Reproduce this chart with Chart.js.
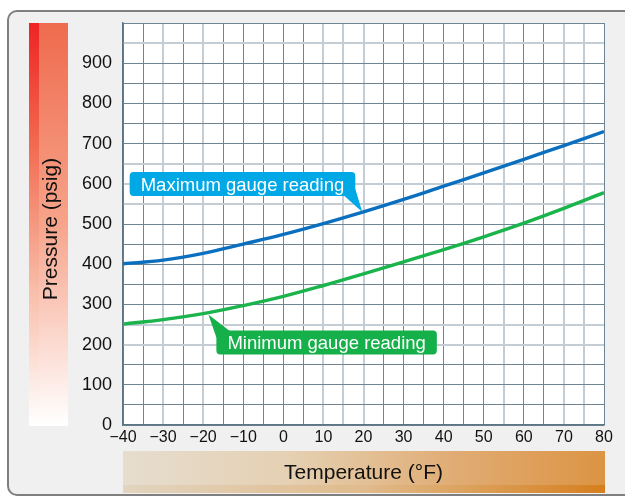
<!DOCTYPE html>
<html>
<head>
<meta charset="utf-8">
<script src="https://cdn.jsdelivr.net/npm/chart.js@4.4.0/dist/chart.umd.min.js"></script>
<style>
  html, body { margin: 0; padding: 0; background: #fff; overflow: hidden; }
  #frame {
    position: absolute; left: 7px; top: 10px; width: 700px; height: 482px;
    border: 2px solid #7f7f7f; border-radius: 10px; background: #f0f0f0;
  }
  #chart { position: absolute; left: 0; top: 0; }
</style>
</head>
<body>
<div id="frame"></div>
<canvas id="chart" width="625" height="497"></canvas>
<script>
// temperature (°F) vs. pressure (psig)
const temps = [-40, -30, -20, -10, 0, 10, 20, 30, 40, 50, 60, 70, 80];
const maxReading = [401, 410, 427, 450, 474, 501, 530, 561, 594, 627, 661, 695, 730];
const minReading = [251, 262, 277, 297, 320, 347, 376, 406, 436, 468, 502, 539, 578];

const xLabel = 'Temperature (°F)';
const yLabel = 'Pressure (psig)';

// grid lines that look paler in the original
const paleX = [-30, -20, 10, 15, 20, 55, 70, 75];
const paleY = [950, 650, 600, 550, 250, 200];

const FONT = '"Liberation Sans", Arial, Helvetica, sans-serif';

const callouts = [
  { text: 'Maximum gauge reading', x: 19.7, y: 530, color: '#00a8e6', side: 'above' },
  { text: 'Minimum gauge reading', x: -18.7, y: 275, color: '#16b04a', side: 'below' }
];

function roundRect(ctx, x, y, w, h, r) {
  ctx.beginPath();
  ctx.moveTo(x + r, y);
  ctx.lineTo(x + w - r, y);
  ctx.quadraticCurveTo(x + w, y, x + w, y + r);
  ctx.lineTo(x + w, y + h - r);
  ctx.quadraticCurveTo(x + w, y + h, x + w - r, y + h);
  ctx.lineTo(x + r, y + h);
  ctx.quadraticCurveTo(x, y + h, x, y + h - r);
  ctx.lineTo(x, y + r);
  ctx.quadraticCurveTo(x, y, x + r, y);
  ctx.closePath();
}

const decor = {
  id: 'decor',
  beforeDraw(chart) {
    const { ctx, chartArea: a } = chart;
    ctx.save();
    ctx.fillStyle = '#ffffff';
    ctx.fillRect(a.left, a.top, a.width, a.height);

    // y title bar
    let g = ctx.createLinearGradient(0, a.top, 0, a.bottom);
    g.addColorStop(0, '#ef6b4e');
    g.addColorStop(0.5, '#f6a48b');
    g.addColorStop(1, '#ffffff');
    ctx.fillStyle = g;
    ctx.fillRect(29, a.top, 39, a.height + 1);
    g = ctx.createLinearGradient(0, a.top, 0, a.bottom);
    g.addColorStop(0, '#ee2424');
    g.addColorStop(0.3, '#f26a50');
    g.addColorStop(0.65, '#f8baa5');
    g.addColorStop(1, '#ffffff');
    ctx.fillStyle = g;
    ctx.fillRect(29, a.top, 10, a.height + 1);

    // x title bar
    g = ctx.createLinearGradient(a.left, 0, a.right, 0);
    g.addColorStop(0, '#e6ddcf');
    g.addColorStop(0.35, '#e5d0b2');
    g.addColorStop(0.7, '#e0ab72');
    g.addColorStop(1, '#dc9444');
    ctx.fillStyle = g;
    ctx.fillRect(a.left, 451, a.width + 1, 34);
    g = ctx.createLinearGradient(a.left, 0, a.right, 0);
    g.addColorStop(0, '#e2d4bf');
    g.addColorStop(0.5, '#e0bb8c');
    g.addColorStop(1, '#d67f1e');
    ctx.fillStyle = g;
    ctx.fillRect(a.left, 485, a.width + 1, 8);

    ctx.fillStyle = '#111';
    ctx.font = '21px ' + FONT;
    ctx.textAlign = 'center';
    ctx.textBaseline = 'alphabetic';
    ctx.fillText(xLabel, (a.left + a.right) / 2, 479);
    ctx.translate(57, 229);
    ctx.rotate(-Math.PI / 2);
    ctx.fillText(yLabel, 0, 0);
    ctx.restore();
  },
  afterDatasetsDraw(chart) {
    const { ctx } = chart;
    const xs = chart.scales.x, ys = chart.scales.y;
    ctx.save();
    ctx.font = '18.5px ' + FONT;
    callouts.forEach(c => {
      const tx = xs.getPixelForValue(c.x);
      const ty = ys.getPixelForValue(c.y);
      const w = ctx.measureText(c.text).width + 22;
      const h = 24;
      let bx, by;
      ctx.fillStyle = c.color;
      ctx.beginPath();
      if (c.side === 'above') {
        bx = tx - 7 - w; by = ty - 16 - h;
        ctx.moveTo(bx + w - 12, by + h - 1);
        ctx.lineTo(tx, ty);
        ctx.lineTo(bx + w, by + h - 7);
      } else {
        bx = tx + 8; by = ty + 16;
        ctx.moveTo(bx, by + 7);
        ctx.lineTo(tx, ty);
        ctx.lineTo(bx + 14, by + 1);
      }
      ctx.closePath();
      ctx.fill();
      roundRect(ctx, bx, by, w, h, 4);
      ctx.fill();
      ctx.fillStyle = '#ffffff';
      ctx.textAlign = 'left';
      ctx.textBaseline = 'alphabetic';
      ctx.fillText(c.text, bx + 11, by + 19);
    });
    ctx.restore();
  }
};

function gridColor(pale) {
  return ctx => pale.includes(ctx.tick && ctx.tick.value) ? '#c3cdd3' : '#6e8694';
}
function gridWidth(pale) {
  return ctx => pale.includes(ctx.tick && ctx.tick.value) ? 2 : 1;
}

new Chart(document.getElementById('chart'), {
  type: 'line',
  data: {
    labels: temps,
    datasets: [
      {
        label: 'Maximum gauge reading',
        data: temps.map((t, i) => ({ x: t, y: maxReading[i] })),
        borderColor: '#0b6fbf',
        borderWidth: 3.4,
        pointRadius: 0,
        tension: 0.4
      },
      {
        label: 'Minimum gauge reading',
        data: temps.map((t, i) => ({ x: t, y: minReading[i] })),
        borderColor: '#1ab34c',
        borderWidth: 3.4,
        pointRadius: 0,
        tension: 0.4
      }
    ]
  },
  options: {
    responsive: false,
    animation: false,
    devicePixelRatio: 1,
    layout: { padding: { left: 0, right: 21, top: 23, bottom: 0 } },
    plugins: {
      legend: { display: false },
      tooltip: { enabled: false }
    },
    scales: {
      x: {
        type: 'linear',
        min: -40,
        max: 80,
        afterFit: s => { s.height = 72; },
        afterBuildTicks: s => {
          s.ticks = [];
          for (let v = -40; v <= 80; v += 5) s.ticks.push({ value: v });
        },
        ticks: {
          autoSkip: false,
          maxRotation: 0,
          padding: 3,
          color: '#111',
          font: { family: FONT, size: 16 },
          callback: v => v % 10 === 0 ? String(v).replace('-', '\u2212') : ''
        },
        grid: { drawTicks: false, color: gridColor(paleX), lineWidth: gridWidth(paleX) },
        border: { color: '#5c7684', width: 1.5 }
      },
      y: {
        min: 0,
        max: 1000,
        afterFit: s => { s.width = 123; },
        afterBuildTicks: s => {
          s.ticks = [];
          for (let v = 0; v <= 1000; v += 50) s.ticks.push({ value: v });
        },
        ticks: {
          autoSkip: false,
          padding: 11,
          color: '#111',
          font: { family: FONT, size: 18 },
          callback: v => (v % 100 === 0 && v < 1000) ? String(v) : ''
        },
        grid: { drawTicks: false, color: gridColor(paleY), lineWidth: gridWidth(paleY) },
        border: { color: '#5c7684', width: 1.5 }
      }
    }
  },
  plugins: [decor]
});
</script>
</body>
</html>
